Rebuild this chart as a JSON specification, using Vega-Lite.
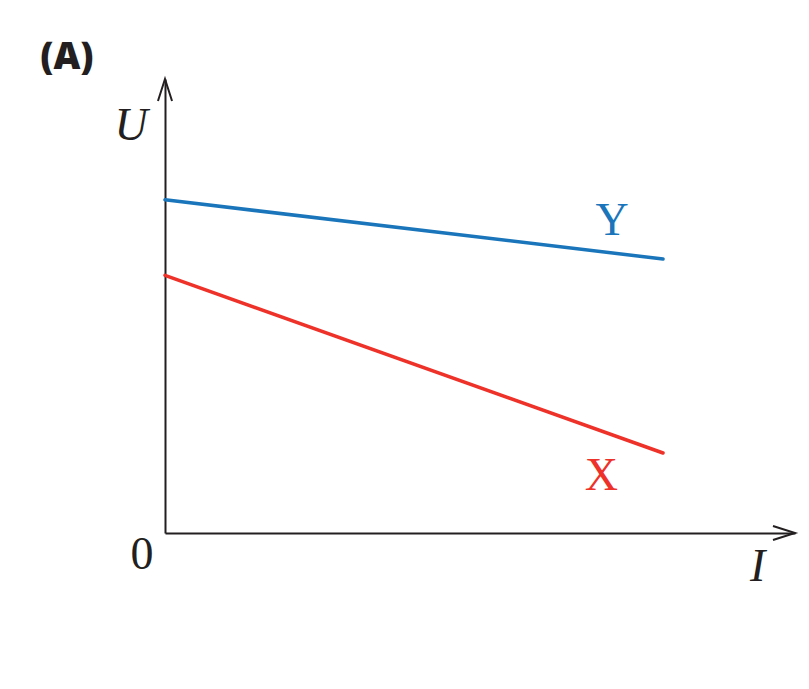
{
  "$schema": "https://vega.github.io/schema/vega-lite/v6.json",
  "width": 630,
  "height": 454,
  "autosize": {"type": "none"},
  "padding": {"left": 165, "top": 79, "right": 14, "bottom": 156},
  "background": "white",
  "config": {
    "view": {"stroke": null},
    "axis": {
      "domainColor": "#231f20",
      "domainWidth": 2,
      "ticks": false,
      "labels": false,
      "grid": false,
      "title": null
    }
  },
  "datasets": {
    "lines": [
      {"series": "Y", "I": 0, "U": 8.33},
      {"series": "Y", "I": 10, "U": 6.85},
      {"series": "X", "I": 0, "U": 6.44},
      {"series": "X", "I": 10, "U": 2.0}
    ],
    "arrows": [
      {"dir": "right", "I": 12.65, "U": 0},
      {"dir": "up", "I": 0, "U": 11.35}
    ],
    "labels": [
      {"label": "U", "kind": "axis", "I": -0.68, "U": 9.83},
      {"label": "I", "kind": "axis", "I": 11.9, "U": -1.2},
      {"label": "0", "kind": "origin", "I": -0.46, "U": -0.9},
      {"label": "Y", "kind": "series", "I": 8.98, "U": 7.45},
      {"label": "X", "kind": "series", "I": 8.76, "U": 1.08},
      {"label": "(A)", "kind": "panel", "I": -1.97, "U": 11.6}
    ]
  },
  "encoding": {
    "x": {
      "field": "I",
      "type": "quantitative",
      "scale": {"domain": [0, 12.65], "nice": false, "zero": false},
      "axis": {"orient": "bottom"}
    },
    "y": {
      "field": "U",
      "type": "quantitative",
      "scale": {"domain": [0, 11.35], "nice": false, "zero": false},
      "axis": {"orient": "left"}
    }
  },
  "layer": [
    {
      "data": {"name": "arrows"},
      "mark": {"type": "point", "filled": false, "opacity": 1, "strokeWidth": 2, "color": "#231f20", "size": 1936},
      "encoding": {
        "shape": {
          "field": "dir",
          "type": "nominal",
          "scale": {
            "domain": ["right", "up"],
            "range": ["M -1 -0.32 L 0 0 L -1 0.32", "M -0.32 1 L 0 0 L 0.32 1"]
          },
          "legend": null
        }
      }
    },
    {
      "data": {"name": "lines"},
      "mark": {"type": "line", "strokeWidth": 3.5, "strokeCap": "round"},
      "encoding": {
        "color": {
          "field": "series",
          "type": "nominal",
          "scale": {"domain": ["X", "Y"], "range": ["#ee3129", "#1a75bb"]},
          "legend": null
        }
      }
    },
    {
      "data": {"name": "labels"},
      "transform": [{"filter": "datum.kind == 'axis'"}],
      "mark": {"type": "text", "font": "Liberation Serif", "fontStyle": "italic", "fontSize": 46, "align": "center", "baseline": "alphabetic", "color": "#231f20"},
      "encoding": {"text": {"field": "label"}}
    },
    {
      "data": {"name": "labels"},
      "transform": [{"filter": "datum.kind == 'origin'"}],
      "mark": {"type": "text", "font": "Liberation Serif", "fontSize": 46, "align": "center", "baseline": "alphabetic", "color": "#231f20"},
      "encoding": {"text": {"field": "label"}}
    },
    {
      "data": {"name": "labels"},
      "transform": [{"filter": "datum.kind == 'series'"}],
      "mark": {"type": "text", "font": "Liberation Serif", "fontSize": 46, "align": "center", "baseline": "alphabetic"},
      "encoding": {
        "text": {"field": "label"},
        "color": {
          "field": "label",
          "type": "nominal",
          "scale": {"domain": ["X", "Y"], "range": ["#ee3129", "#1a75bb"]},
          "legend": null
        }
      }
    },
    {
      "data": {"name": "labels"},
      "transform": [{"filter": "datum.kind == 'panel'"}],
      "mark": {"type": "text", "font": "Open Sans", "fontWeight": 800, "fontSize": 37, "align": "center", "baseline": "alphabetic", "color": "#231f20"},
      "encoding": {"text": {"field": "label"}}
    }
  ]
}
